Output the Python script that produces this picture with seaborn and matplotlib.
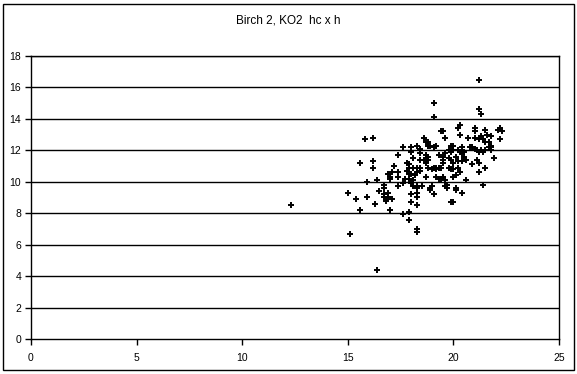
import matplotlib
matplotlib.use("Agg")
import matplotlib.pyplot as plt
import seaborn as sns
import pandas as pd
from matplotlib.patches import Rectangle

# hc (x) and h (y)
hc = [12.3, 15.1, 15.6, 15.0, 16.4, 15.9, 16.3, 15.9, 16.4, 16.7, 16.7, 16.7, 16.7,
      16.9, 16.9, 16.8, 17.1, 17.0, 16.9, 17.0, 17.0, 17.4, 17.4, 17.4, 17.6, 17.6,
      17.9, 17.9, 18.3, 18.3, 18.0, 18.0, 18.3, 18.3, 18.3, 18.3, 18.5, 18.7, 18.0,
      18.1, 15.8, 16.2, 15.6, 16.2, 16.2, 17.4, 17.6, 18.0, 18.0, 18.3, 18.4, 18.4,
      18.6, 18.7, 18.8, 18.7, 18.8, 18.7, 18.1, 18.4, 17.9, 17.9, 18.1, 18.3, 18.4,
      18.3, 18.4, 17.8, 17.9, 18.0, 18.2, 17.7, 17.9, 18.1, 18.3, 18.9,
      21.2, 19.1, 19.1, 21.2, 21.3, 19.4, 19.5, 19.6, 20.2, 20.3, 20.3, 21.0, 21.0,
      21.5, 21.8, 22.1, 22.2, 22.2, 20.7, 21.0, 21.2, 21.3, 21.4, 21.5, 21.7, 21.8,
      21.8, 18.8, 18.9, 19.2, 19.1, 19.9, 20.0, 19.8, 19.9, 20.0, 20.2, 20.3, 20.4,
      20.5, 20.8, 20.9, 21.0, 21.1, 21.2, 21.3, 21.4, 21.5, 21.7, 21.8, 21.9, 21.1,
      21.2, 21.5, 21.2, 21.4, 20.4, 20.5, 20.6, 20.4, 20.1, 20.2, 19.8, 19.9, 20.0,
      19.8, 19.9, 20.0, 19.5, 19.6, 19.5, 19.5, 19.2, 19.3, 19.4, 19.1, 19.0, 19.2,
      18.8, 18.6, 18.7, 18.8, 17.8, 20.2, 20.3, 20.6, 19.2, 19.3, 19.4, 19.5, 19.6,
      19.7, 20.0, 20.1, 18.9, 19.0, 19.1, 19.9, 20.0, 20.1, 20.4, 19.6, 19.7, 20.1,
      22.3, 21.6, 20.9, 19.3, 17.2, 16.5, 15.4, 17.1]
h = [8.5, 6.7, 8.2, 9.3, 4.4, 9.0, 8.6, 10.0, 10.1, 9.8, 9.6, 9.2, 9.0,
     9.3, 9.0, 8.8, 8.9, 8.2, 10.5, 10.3, 10.2, 10.6, 10.3, 9.7, 9.9, 7.95,
     8.1, 7.6, 7.0, 6.8, 9.2, 8.7, 9.3, 9.0, 8.5, 9.7, 9.7, 10.3, 9.9,
     10.1, 12.7, 12.8, 11.2, 11.3, 10.9, 11.7, 12.2, 12.2, 11.9, 12.3, 12.1, 11.8,
     12.8, 12.5, 12.3, 11.7, 11.6, 11.4, 11.5, 11.4, 11.1, 10.9, 10.9, 10.9, 10.9,
     10.6, 10.7, 10.7, 10.5, 10.5, 10.4, 10.2, 10.2, 9.7, 9.6, 9.5,
     16.5, 15.0, 14.1, 14.6, 14.3, 13.2, 13.2, 12.8, 13.4, 13.6, 13.0, 13.4, 13.2,
     13.3, 12.9, 13.3, 13.4, 12.7, 12.8, 12.8, 12.7, 12.9, 12.7, 12.5, 12.5, 12.3,
     12.2, 12.5, 12.3, 12.3, 12.2, 12.3, 12.3, 12.0, 11.9, 12.0, 12.0, 11.9, 12.2,
     11.9, 12.2, 12.2, 12.1, 12.0, 11.9, 12.0, 11.9, 12.0, 12.2, 12.0, 11.5, 11.4,
     11.2, 10.9, 10.6, 9.8, 11.8, 11.6, 11.4, 11.3, 11.6, 11.3, 11.5, 11.4, 11.2,
     10.9, 10.8, 10.8, 11.6, 11.8, 11.4, 11.2, 10.9, 10.9, 10.9, 10.9, 10.8, 10.8,
     11.4, 11.4, 11.2, 10.9, 11.2, 10.9, 10.6, 10.1, 10.3, 10.2, 10.2, 10.3, 10.1,
     9.8, 10.3, 10.4, 9.6, 9.7, 9.2, 8.7, 8.7, 9.6, 9.3, 9.7, 9.6, 9.5,
     13.2, 13.0, 11.1, 11.7, 11.0, 9.4, 8.9, 10.6]

title = "Birch 2, KO2  hc x h"
x_ticks = [0, 5, 10, 15, 20, 25]
y_ticks = [0, 2, 4, 6, 8, 10, 12, 14, 16, 18]

df = pd.DataFrame({"hc": hc, "h": h})

sns.set_style("white")
plt.rcParams["font.family"] = ["Liberation Sans", "DejaVu Sans"]
plt.rcParams["text.color"] = "black"
plt.rcParams["xtick.color"] = "black"
plt.rcParams["ytick.color"] = "black"

fig = plt.figure(figsize=(5.77, 3.74), dpi=100)
ax = fig.add_axes([0.0537, 0.0936, 0.9151, 0.7567])

# outer chart border like excel
fig.patches.append(Rectangle((0.006, 0.01), 0.988, 0.98, transform=fig.transFigure,
                             fill=False, edgecolor="black", linewidth=1))

for yv in y_ticks[1:]:
    ax.axhline(yv, color="black", linewidth=1, zorder=1)

sns.scatterplot(data=df, x="hc", y="h", ax=ax, color="black", marker="+",
                s=16, linewidth=1.4, zorder=3)

ax.set_xlim(0, 25)
ax.set_ylim(0, 18)
ax.set_xticks(x_ticks)
ax.set_yticks(y_ticks)
ax.set_xlabel("")
ax.set_ylabel("")
for s in ax.spines.values():
    s.set_color("black")
    s.set_linewidth(1)
ax.tick_params(axis="both", direction="out", length=4, width=1, color="black",
               labelcolor="black", labelsize=7.5, pad=3, bottom=True, left=True)
ax.tick_params(axis="x", pad=6)

fig.text(0.5, 0.945, title, ha="center", va="center", fontsize=8.5, color="black")

fig.savefig("out.png", dpi=100)
